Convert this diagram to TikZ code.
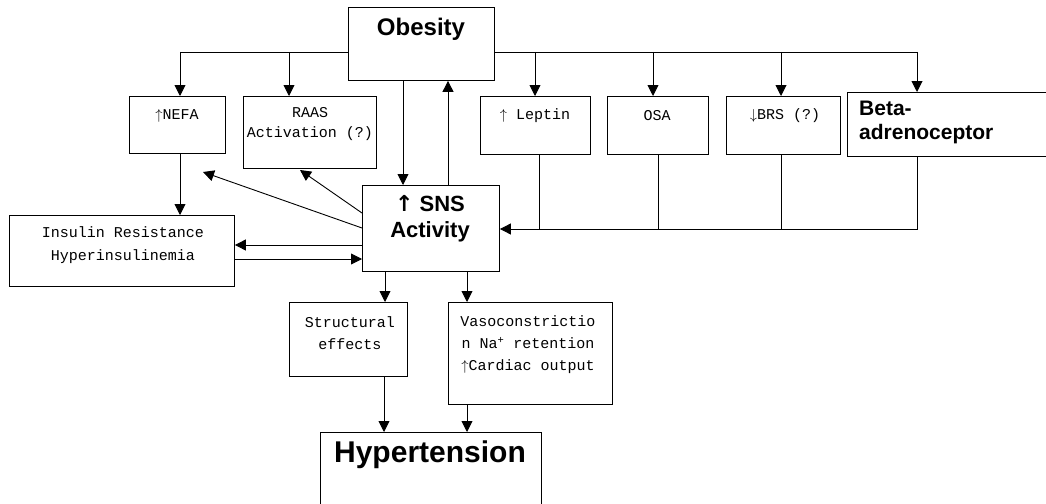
\documentclass[tikz,border=0pt]{standalone}
\usepackage{fontspec}
\setmainfont{Liberation Sans}
\newfontfamily\monof{Liberation Mono}
\newfontfamily\arrf{DejaVu Sans}
\usetikzlibrary{arrows.meta}
\begin{document}
\begin{tikzpicture}[x=1pt,y=-1pt,
  box/.style={draw, line width=0.9pt, inner sep=0pt, anchor=north west},
  mtxt/.style={font=\monof\fontsize{15}{22}\selectfont, align=center, inner sep=0pt},
  btxt/.style={font=\bfseries\fontsize{22}{26}\selectfont, align=center, inner sep=0pt},
  ln/.style={line width=0.9pt},
  arr/.style={line width=0.9pt, -{Triangle[length=11pt,width=11pt]}}]
\useasboundingbox (0,0) rectangle (1046,503);
\clip (0,0) rectangle (1046,503);
% boxes
\node[box, minimum width=146, minimum height=73] (ob) at (348,7) {};
\node[box, minimum width=96, minimum height=57] (nefa) at (129,96) {};
\node[box, minimum width=133, minimum height=72] (raas) at (243,96) {};
\node[box, minimum width=110, minimum height=58] (lep) at (480,96) {};
\node[box, minimum width=101, minimum height=58] (osa) at (607,96) {};
\node[box, minimum width=114, minimum height=58] (brs) at (726,96) {};
\node[box, minimum width=198.5, minimum height=64] (beta) at (847,92) {};
\node[box, minimum width=137, minimum height=86] (sns) at (362,185) {};
\node[box, minimum width=225, minimum height=71] (ins) at (9,215) {};
\node[box, minimum width=118, minimum height=74] (str) at (289,302) {};
\node[box, minimum width=164, minimum height=102] (vaso) at (448,302) {};
\node[box, minimum width=221, minimum height=90] (hyp) at (320,432) {};
% texts
\node[btxt, font=\bfseries\fontsize{24}{28}\selectfont] (tob) at (421,29) {Obesity};
\node[mtxt] (tnefa) at (177,116) {$\uparrow$NEFA};
\node[mtxt, font=\monof\fontsize{15}{20}\selectfont] (traas) at (310,124) {RAAS\\Activation (?)};
\node[mtxt] (tlep) at (535,116) {$\uparrow$ Leptin};
\node[mtxt] (tosa) at (657,116) {OSA};
\node[mtxt] (tbrs) at (785,116) {$\downarrow$BRS (?)};
\node[btxt, font=\bfseries\fontsize{21}{24}\selectfont, align=left, anchor=west] (tbeta) at (859,122) {Beta-\\adrenoceptor};
\node[btxt] (tsns) at (430,219) {{\arrf\bfseries ↑} SNS\\Activity};
\node[mtxt, font=\monof\fontsize{15}{23}\selectfont] (tins) at (123,245.5) {Insulin Resistance\\Hyperinsulinemia};
\node[mtxt] (tstr) at (350,333) {Structural\\effects};
\node[mtxt] (tvaso) at (528,344.5) {Vasoconstrictio\\n Na\textsuperscript{+} retention\\$\uparrow$Cardiac output};
\node[btxt, font=\bfseries\fontsize{30}{34}\selectfont] (thyp) at (430,455) {Hypertension};
% bus coordinates
\coordinate (dN) at (180,52);
\coordinate (dR) at (289,52);
\coordinate (dL) at (535,52);
\coordinate (dO) at (653,52);
\coordinate (dB) at (781,52);
\coordinate (dBe) at (917,52);
\draw[ln] (ob.west |- dN) -- (dN);
\draw[ln] (ob.east |- dBe) -- (dBe);
\draw[arr] (dN) -- (dN |- nefa.north);
\draw[arr] (dR) -- (dR |- raas.north);
\draw[arr] (dL) -- (dL |- lep.north);
\draw[arr] (dO) -- (dO |- osa.north);
\draw[arr] (dB) -- (dB |- brs.north);
\draw[arr] (dBe) -- (dBe |- beta.north);
% obesity <-> SNS
\draw[arr] (403,0 |- ob.south) -- (403,0 |- sns.north);
\draw[arr] (448,0 |- sns.north) -- (448,0 |- ob.south);
% feedback line
\coordinate (fL) at (539,229);
\coordinate (fO) at (658,229);
\coordinate (fB) at (781,229);
\coordinate (fBe) at (917,229);
\draw[ln] (fL |- lep.south) -- (fL);
\draw[ln] (fO |- osa.south) -- (fO);
\draw[ln] (fB |- brs.south) -- (fB);
\draw[arr] (fBe |- beta.south) -- (fBe) -- (fBe -| sns.east);
% SNS diagonals
\coordinate (tipN) at (203,172);
\coordinate (tipR) at (300,170);
\draw[arr] (sns.west |- 0,228) -- (tipN);
\draw[arr] (sns.west |- 0,213) -- (tipR);
% SNS <-> insulin
\draw[arr] (sns.west |- 0,245) -- (ins.east |- 0,245);
\draw[arr] (ins.east |- 0,259) -- (sns.west |- 0,259);
% NEFA -> insulin
\draw[arr] (180,0 |- nefa.south) -- (180,0 |- ins.north);
% SNS -> lower
\draw[arr] (385,0 |- sns.south) -- (385,0 |- str.north);
\draw[arr] (467,0 |- sns.south) -- (467,0 |- vaso.north);
\draw[arr] (384,0 |- str.south) -- (384,0 |- hyp.north);
\draw[arr] (467,0 |- vaso.south) -- (467,0 |- hyp.north);
\end{tikzpicture}
\end{document}
